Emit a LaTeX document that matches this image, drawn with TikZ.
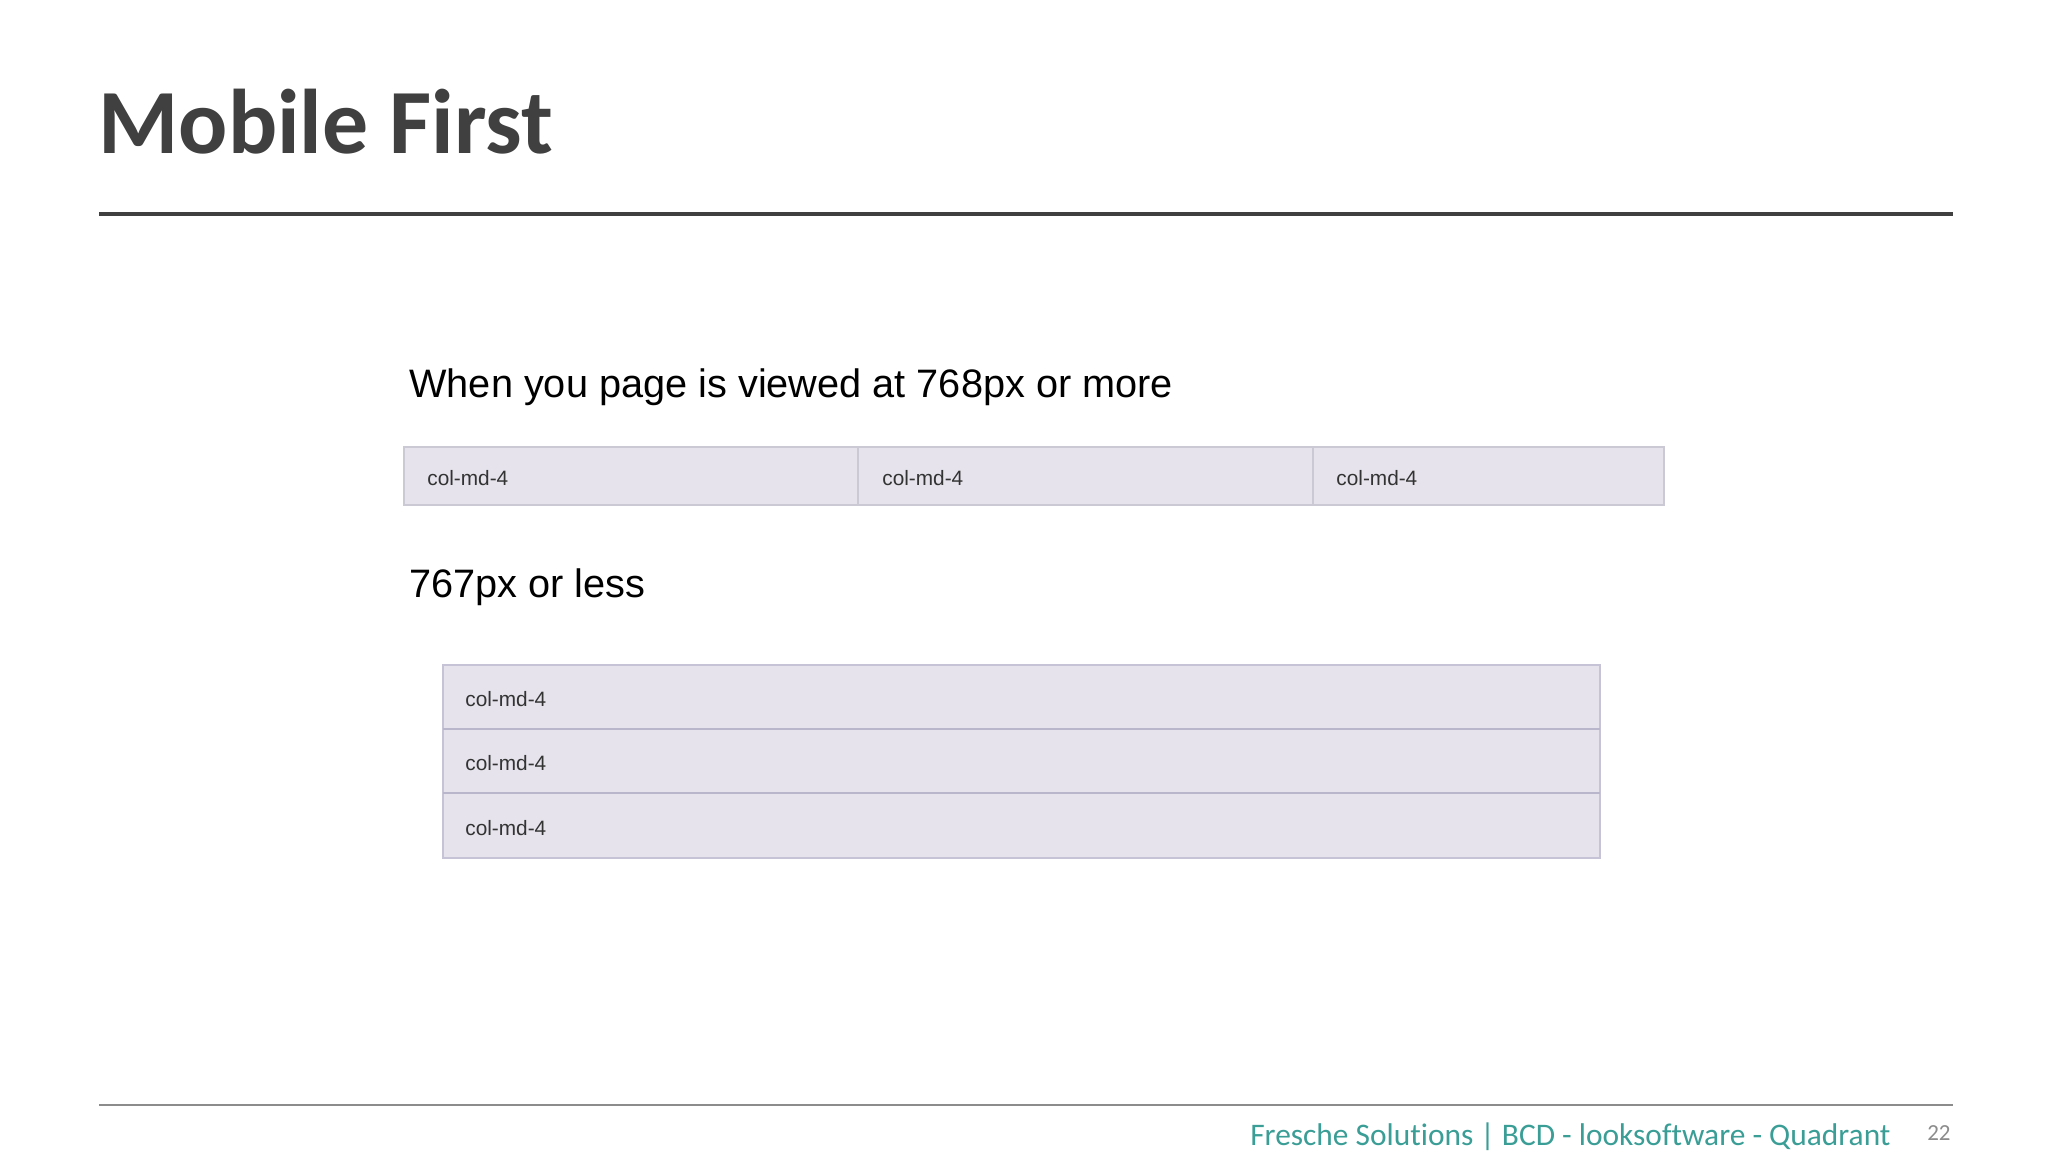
\documentclass[tikz,border=0pt]{standalone}
\usepackage{fontspec}
\setmainfont{Liberation Sans}
\newfontfamily\calib[Ligatures=NoCommon]{Carlito}
\definecolor{titlegray}{HTML}{404040}
\definecolor{boxfill}{HTML}{E6E3EC}
\definecolor{boxline}{HTML}{C6C3D6}
\definecolor{rowline}{HTML}{CBC9D3}
\definecolor{divline}{HTML}{B9B6CC}
\definecolor{labelgray}{HTML}{333333}
\definecolor{teal}{HTML}{3A9E96}
\definecolor{rulegray}{HTML}{8C8C8C}
\tikzset{
  colbox/.style={draw=boxline, fill=boxfill, line width=1.2pt},
  rowbox/.style={draw=rowline, fill=boxfill, line width=1.2pt},
  collabel/.style={anchor=base west, inner sep=0pt, font=\fontsize{10.4}{12}\selectfont, text=labelgray},
  bodytext/.style={anchor=base west, inner sep=0pt, font=\fontsize{19.85}{23}\selectfont, text=black},
}
\begin{document}
\begin{tikzpicture}[x=0.5pt,y=-0.5pt]
\useasboundingbox[fill=white] (0,0) rectangle (2048,1152);
% title
\node[anchor=base west, inner sep=0pt, font=\calib\bfseries\fontsize{45.9}{50}\selectfont, text=titlegray] (title) at (98,153) {Mobile First};
\coordinate (tl1) at (99,214);
\coordinate (tl2) at (1953,214);
\draw[titlegray, line width=1.6pt] (tl1) -- (tl2);
% first text
\node[bodytext] (t1) at (409,397) {When you page is viewed at 768px or more};
% row of three
\draw[rowbox] (404,447) rectangle (858,505);
\draw[rowbox] (858,447) rectangle (1313,505);
\draw[rowbox] (1313,447) rectangle (1664,505);
\node[collabel] (r1) at (427,485) {col-md-4};
\node[collabel] (r2) at (882,485) {col-md-4};
\node[collabel] (r3) at (1336,485) {col-md-4};
% second text
\node[bodytext] (t2) at (409,597) {767px or less};
% stacked
\draw[colbox] (443,665) rectangle (1600,729);
\draw[colbox] (443,729) rectangle (1600,793);
\draw[colbox] (443,793) rectangle (1600,858);
\draw[divline, line width=1.4pt] (443,729) -- (1600,729);
\draw[divline, line width=1.4pt] (443,793) -- (1600,793);
\node[collabel] (s1) at (465,706) {col-md-4};
\node[collabel] (s2) at (465,770) {col-md-4};
\node[collabel] (s3) at (465,835) {col-md-4};
% footer
\coordinate (fl1) at (99,1105);
\coordinate (fl2) at (1953,1105);
\draw[rulegray, line width=1pt] (fl1) -- (fl2);
\node[anchor=base east, inner sep=0pt, font=\calib\fontsize{15.7}{18}\selectfont, text=teal] (foot) at (1891,1145) {Fresche Solutions | BCD - looksoftware - Quadrant};
\node[anchor=base east, inner sep=0pt, font=\calib\fontsize{11.5}{13}\selectfont, text=rulegray] (page) at (1951,1140) {22};
\end{tikzpicture}
\end{document}
